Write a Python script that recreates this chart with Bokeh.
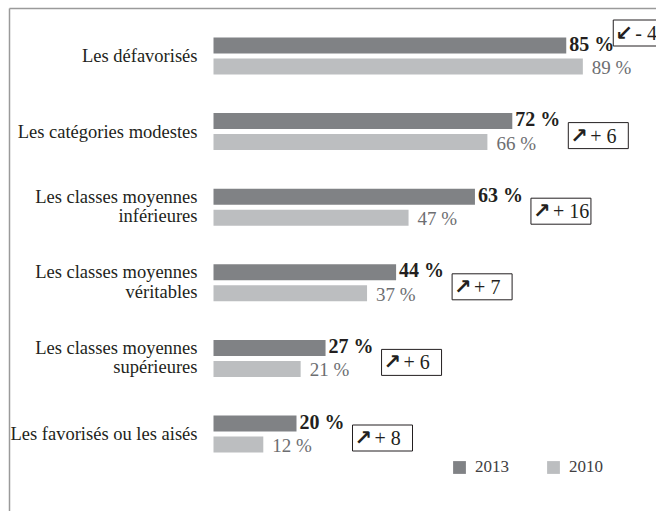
from bokeh.plotting import figure
from bokeh.models import Range1d, Legend, LegendItem, ColumnDataSource
from bokeh.core.properties import value
from bokeh.embed import file_html
from bokeh.resources import INLINE

# ---- data ----
categories = [
    "Les défavorisés",
    "Les catégories modestes",
    "Les classes moyennes\ninférieures",
    "Les classes moyennes\nvéritables",
    "Les classes moyennes\nsupérieures",
    "Les favorisés ou les aisés",
]
values_2013 = [85, 72, 63, 44, 27, 20]
values_2010 = [89, 66, 47, 37, 21, 12]
series_names = ["2013", "2010"]

# ---- style / layout ----
C13 = "#808285"
C10 = "#bcbec0"
SERIF = "Liberation Serif"
W, H = 656, 511
SX = 4.15                   # px per %
X0 = -213 / SX
X1 = X0 + W / SX
ROW = 75.6                  # px per row
Y_TOP = -55.5 / ROW
Y_BOT = (H - 55.5) / ROW
PY = 1.0 / ROW              # one pixel in y units
PX = 1.0 / SX               # one pixel in x units

n = len(categories)
rows = list(range(n))

p = figure(width=W, height=H, output_backend="svg", toolbar_location=None,
           x_range=Range1d(X0, X1), y_range=Range1d(Y_BOT, Y_TOP),
           min_border=0, min_border_left=0, min_border_right=0,
           min_border_top=0, min_border_bottom=0)
p.xaxis.visible = False
p.yaxis.visible = False
p.grid.visible = False
p.outline_line_color = None
p.background_fill_color = "white"
p.border_fill_color = "white"

# frame lines (page border)
p.segment(x0=[X0 + 9 * PX], y0=[Y_TOP + 8 * PY], x1=[X0 + 9 * PX], y1=[Y_BOT],
          line_color="#9a9a9a", line_width=1.5)
p.segment(x0=[X0 + 9 * PX], y0=[Y_TOP + 8 * PY], x1=[X1], y1=[Y_TOP + 8 * PY],
          line_color="#9a9a9a", line_width=1.5)

bar_h = 16 * PY
off = 10.5 * PY
src = ColumnDataSource(dict(
    y13=[r - off for r in rows], y10=[r + off for r in rows],
    v13=values_2013, v10=values_2010,
))
r13 = p.hbar(y="y13", right="v13", left=0, height=bar_h, fill_color=C13,
             line_color=None, source=src)
r10 = p.hbar(y="y10", right="v10", left=0, height=bar_h, fill_color=C10,
             line_color=None, source=src)

# value labels
p.text(x=[v + 3 * PX for v in values_2013], y=[r - off - 2 * PY for r in rows],
       text=[f"{v} %" for v in values_2013], text_font=value(SERIF),
       text_font_size="20px", text_font_style="bold", text_color="#231f20",
       text_baseline="middle", text_align="left")
p.text(x=[v + 9 * PX for v in values_2010], y=[r + off + 1 * PY for r in rows],
       text=[f"{v} %" for v in values_2010], text_font=value(SERIF),
       text_font_size="19px", text_color="#6d6e71",
       text_baseline="middle", text_align="left")

# category labels
lab_x, lab_y, lab_t = [], [], []
for r, c in zip(rows, categories):
    lines = c.split("\n")
    if len(lines) == 1:
        lab_x.append(-16 * PX); lab_y.append(r); lab_t.append(lines[0])
    else:
        lab_x += [-16 * PX, -16 * PX]
        lab_y += [r - 10.5 * PY, r + 9 * PY]
        lab_t += lines
p.text(x=lab_x, y=lab_y, text=lab_t, text_font=value(SERIF),
       text_font_size="18.5px", text_color="#231f20",
       text_align="right", text_baseline="middle")

# change boxes
bl, br, bt, bb, ax_, ay_, at_, tx_, tt_ = [], [], [], [], [], [], [], [], []
for r, a, b in zip(rows, values_2013, values_2010):
    d = a - b
    left = a + 56 * PX
    cy = r + 4 * PY
    if b > a:
        left = a + 47 * PX
        cy = r - 23 * PY
    bl.append(left); br.append(left + 60 * PX)
    bt.append(cy - 13 * PY); bb.append(cy + 13 * PY)
    ax_.append(left + 2 * PX); ay_.append(cy)
    at_.append("↗" if d > 0 else "↙")
    tx_.append(left + 22 * PX)
    tt_.append(("+ " if d > 0 else "- ") + str(abs(d)))
p.quad(left=bl, right=br, top=bt, bottom=bb, fill_color="white",
       line_color="#231f20", line_width=1)
p.text(x=ax_, y=ay_, text=at_, text_font=value("DejaVu Sans"),
       text_font_size="21px", text_font_style="bold", text_color="#231f20",
       text_baseline="middle", text_align="left")
p.text(x=tx_, y=ay_, text=tt_, text_font=value(SERIF),
       text_font_size="20px", text_color="#231f20",
       text_baseline="middle", text_align="left")

legend = Legend(items=[LegendItem(label=series_names[0], renderers=[r13]),
                       LegendItem(label=series_names[1], renderers=[r10])],
                orientation="horizontal", location=(451, 34),
                padding=0, margin=0, spacing=36, glyph_width=16, glyph_height=16,
                label_standoff=8, label_height=16,
                label_text_font=SERIF, label_text_font_size="17px",
                label_text_color="#414042", border_line_color=None,
                background_fill_alpha=0)
p.add_layout(legend)

open("out.html", "w").write(file_html(p, INLINE))
